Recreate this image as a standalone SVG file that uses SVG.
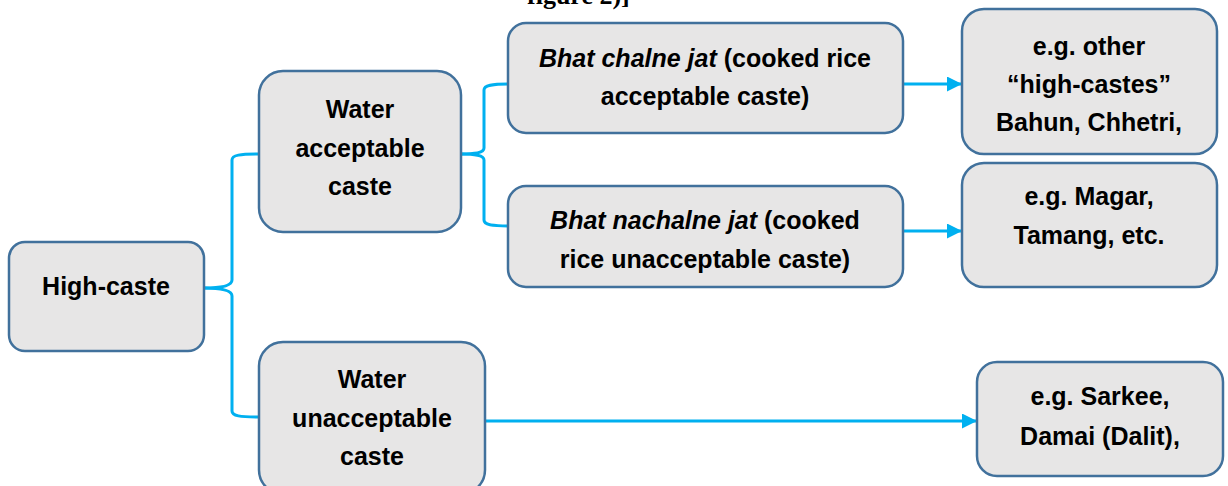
<svg xmlns="http://www.w3.org/2000/svg" width="1228" height="486" viewBox="0 0 1228 486">
  <style>
    .box { fill: #e7e6e6; stroke: #41719c; stroke-width: 2.5; }
    .lbl { font-family: "Liberation Sans", Arial, sans-serif; font-weight: bold; font-size: 25px; fill: #000; text-anchor: middle; }
    .it { font-style: italic; }
    .link { fill: none; stroke: #00b0f0; stroke-width: 3; }
    .cap { font-family: "Liberation Serif", "Times New Roman", serif; font-weight: bold; font-size: 26px; fill: #000; }
  </style>
  <defs>
    <marker id="arrow" viewBox="0 0 10 10" refX="10" refY="5" markerWidth="5" markerHeight="5" markerUnits="strokeWidth" orient="auto">
      <path d="M0,0 L10,5 L0,10 z" fill="#00b0f0"/>
    </marker>
  </defs>

  <!-- caption line running off the top edge -->
  <text class="cap" x="527" y="4">figure 2)]</text>

  <!-- connectors -->
  <g id="connectors">
    <!-- brace from High-caste to the two water groups -->
    <path class="link" d="M204,288 C220,288 232,286 232,280 L232,160 C232,155 240,154 259,154"/>
    <path class="link" d="M204,288 C220,288 232,290 232,296 L232,411 C232,416 240,417 259,417"/>
    <!-- brace from Water acceptable to the two rice groups -->
    <path class="link" d="M461,154 C475,154 484,153 484,148 L484,90 C484,85 492,84 508,84"/>
    <path class="link" d="M461,154 C475,154 484,155 484,160 L484,220 C484,225 492,226 508,226"/>
    <!-- arrows to examples -->
    <line class="link" x1="903" y1="84" x2="962" y2="84" marker-end="url(#arrow)"/>
    <line class="link" x1="903" y1="231" x2="962" y2="231" marker-end="url(#arrow)"/>
    <line class="link" x1="485" y1="421" x2="977" y2="421" marker-end="url(#arrow)"/>
  </g>

  <g id="high-caste">
    <rect class="box" x="9" y="242" width="195" height="109" rx="16"/>
    <text class="lbl" x="106" y="295">High-caste</text>
  </g>

  <g id="water-acceptable">
    <rect class="box" x="259" y="71" width="202" height="161" rx="24"/>
    <text class="lbl" x="360" y="118">Water</text>
    <text class="lbl" x="360" y="157">acceptable</text>
    <text class="lbl" x="360" y="195">caste</text>
  </g>

  <g id="water-unacceptable">
    <rect class="box" x="259" y="342" width="226" height="152" rx="24"/>
    <text class="lbl" x="372" y="388">Water</text>
    <text class="lbl" x="372" y="427">unacceptable</text>
    <text class="lbl" x="372" y="465">caste</text>
  </g>

  <g id="bhat-chalne">
    <rect class="box" x="508" y="23" width="395" height="110" rx="18"/>
    <text class="lbl" x="705" y="67"><tspan class="it">Bhat chalne jat</tspan> (cooked rice</text>
    <text class="lbl" x="705" y="105">acceptable caste)</text>
  </g>

  <g id="bhat-nachalne">
    <rect class="box" x="508" y="186" width="395" height="101" rx="18"/>
    <text class="lbl" x="705" y="229"><tspan class="it">Bhat nachalne jat</tspan> (cooked</text>
    <text class="lbl" x="705" y="268">rice unacceptable caste)</text>
  </g>

  <g id="ex-high-castes">
    <rect class="box" x="962" y="9" width="255" height="145" rx="22"/>
    <text class="lbl" x="1089" y="55">e.g. other</text>
    <text class="lbl" x="1089" y="93">“high-castes”</text>
    <text class="lbl" x="1089" y="131">Bahun, Chhetri,</text>
  </g>

  <g id="ex-magar">
    <rect class="box" x="962" y="163" width="255" height="124" rx="22"/>
    <text class="lbl" x="1089" y="205">e.g. Magar,</text>
    <text class="lbl" x="1089" y="244">Tamang, etc.</text>
  </g>

  <g id="ex-sarkee">
    <rect class="box" x="977" y="362" width="246" height="114" rx="20"/>
    <text class="lbl" x="1100" y="405">e.g. Sarkee,</text>
    <text class="lbl" x="1100" y="445">Damai (Dalit),</text>
  </g>
</svg>
